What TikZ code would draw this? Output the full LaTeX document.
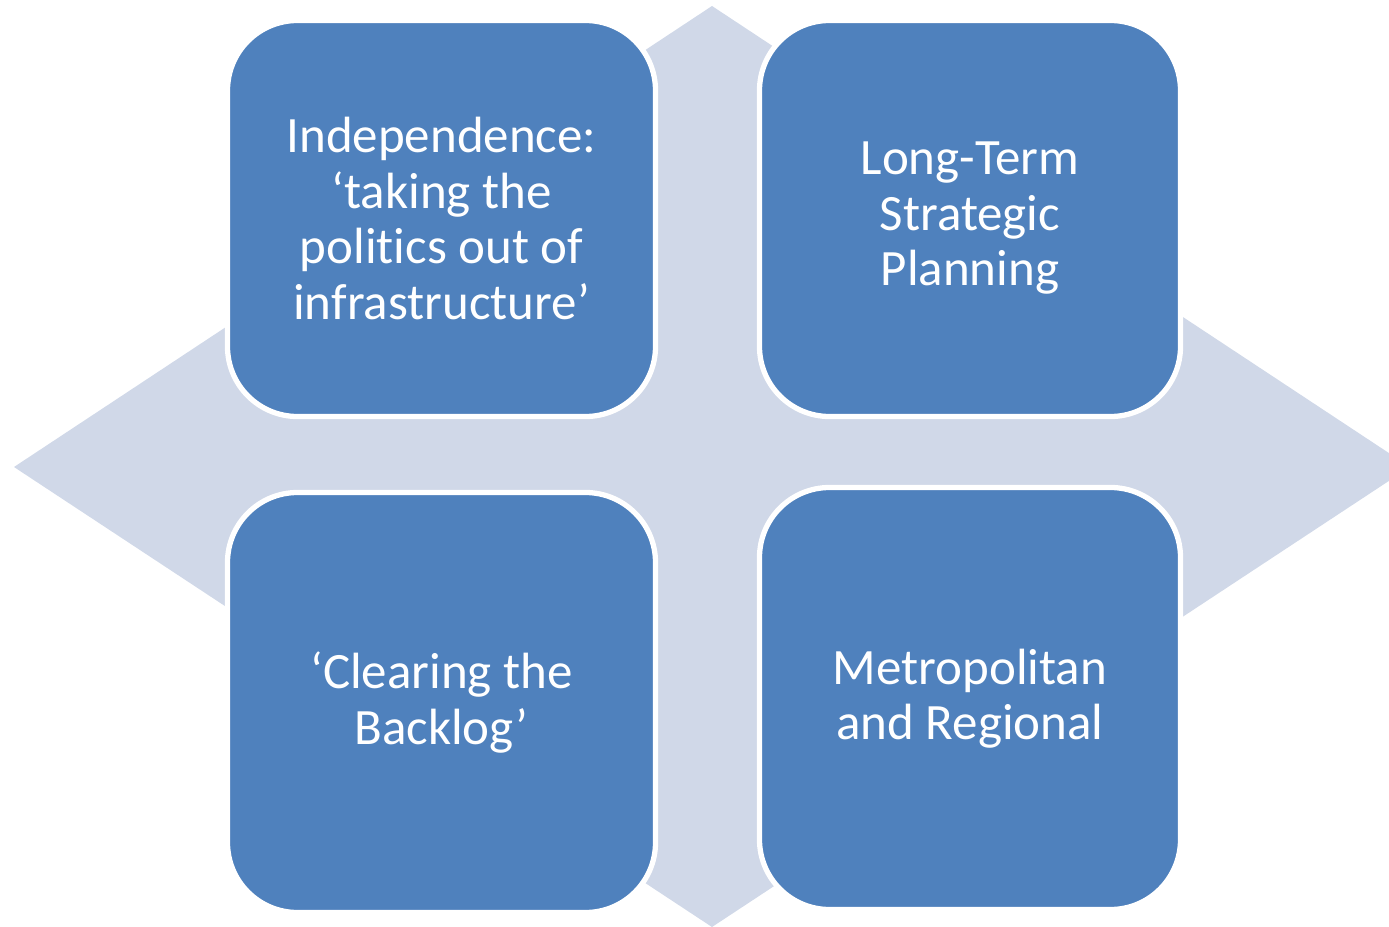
\documentclass[tikz,border=0pt]{standalone}
\usepackage{fontspec}
\setmainfont{Carlito}[Ligatures={TeX,NoCommon}]
\usetikzlibrary{calc}
\definecolor{tileBlue}{RGB}{79,129,189}
\definecolor{paleBlue}{RGB}{208,216,232}

\begin{document}
\begin{tikzpicture} [tile/.style = {rectangle, rounded corners = 0.7cm, fill = tileBlue, draw = white, line width = 1.5pt, align = center, text = white, font = \fontsize{14.5}{15.8}\selectfont}]

	\useasboundingbox (0, 0) rectangle (13.89, 9.26);
	\clip (0, 0) rectangle (13.89, 9.26);

		% Define coordinates.

	%diamond
	\coordinate (left) at (0.14, 4.59);
	\coordinate (top) at (7.12, 9.20);
	\coordinate (right) at (14.10, 4.59);
	\coordinate (bottom) at (7.12, -0.01);

% Draw diamond.

	\fill [fill=paleBlue] (left) -- (top) -- (right) -- (bottom) -- cycle;

% Draw tiles.

	\node [tile, minimum width = 4.28cm, minimum height = 3.96cm] (independence) at (4.415, 7.075) {Independence:\\‘taking the\\polit\kern0pt ics out of\\infrastructure’};
	\node [tile, minimum width = 4.21cm, minimum height = 3.96cm] (planning) at (9.70, 7.075) {Long-Term\\Strategic\\Planning};
	\node [tile, minimum width = 4.28cm, minimum height = 4.20cm] (backlog) at (4.415, 2.235) {‘Clearing the\\Backlog’};
	\node [tile, minimum width = 4.21cm, minimum height = 4.22cm] (regional) at (9.70, 2.275) {Metropolitan\\and Regional};

\end{tikzpicture}
\end{document}
